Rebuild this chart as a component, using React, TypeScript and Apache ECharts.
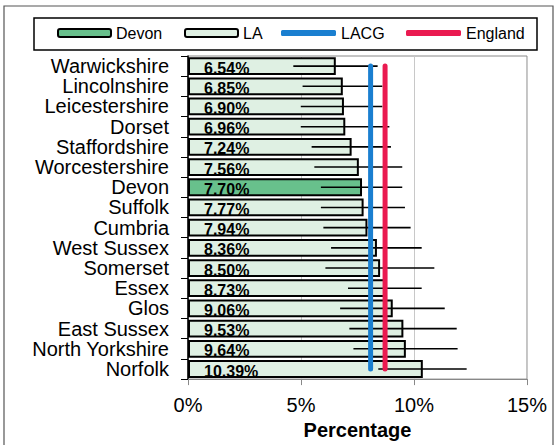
import React, { useEffect, useRef } from "react";
import * as echarts from "echarts";

const categories = [
  "Warwickshire", "Lincolnshire", "Leicestershire", "Dorset", "Staffordshire",
  "Worcestershire", "Devon", "Suffolk", "Cumbria", "West Sussex", "Somerset",
  "Essex", "Glos", "East Sussex", "North Yorkshire", "Norfolk",
];
const values = [6.54, 6.85, 6.9, 6.96, 7.24, 7.56, 7.7, 7.77, 7.94, 8.36, 8.5, 8.73, 9.06, 9.53, 9.64, 10.39];
const lows = [4.66, 5.07, 4.99, 4.99, 5.47, 5.59, 5.88, 5.88, 5.99, 6.33, 6.08, 7.08, 6.73, 7.14, 7.32, 8.42];
const highs = [8.39, 8.6, 8.6, 8.91, 8.98, 9.48, 9.48, 9.6, 9.85, 10.34, 10.9, 10.34, 11.36, 11.89, 11.93, 12.33];
const lacgValue = 8.08;
const englandValue = 8.72;
const highlight = "Devon";
const xTicks = { min: 0, max: 15, interval: 5 };

const FONT = 'Arial, "Liberation Sans", sans-serif';

export default function App() {
  const ref = useRef<HTMLDivElement>(null);
  useEffect(() => {
    document.body.style.margin = "0";
    const chart = echarts.init(ref.current!, null, { renderer: "svg" });
    const laData = values.map((v, i) => (categories[i] === highlight ? "-" : v));
    const devonData = values.map((v, i) => (categories[i] === highlight ? v : "-"));
    const barLabel = {
      show: true,
      position: "insideLeft",
      distance: 16,
      offset: [0, 2],
      formatter: (p: any) => p.value.toFixed(2) + "%",
      fontFamily: FONT,
      fontWeight: "bold",
      fontSize: 16,
      color: "#000",
    };
    const legendBase = {
      top: 25,
      padding: 0,
      itemWidth: 53,
      itemHeight: 8,
      itemGap: 5,
      textStyle: { fontFamily: FONT, fontSize: 16, color: "#000" },
    };
    const lineLegend = {
      ...legendBase,
      icon: "roundRect",
      itemWidth: 55,
      itemHeight: 6,
    };
    chart.setOption({
      animation: false,
      textStyle: { fontFamily: FONT },
      graphic: [
        {
          type: "rect",
          shape: { x: 4, y: 6, width: 549, height: 460 },
          style: { fill: "none", stroke: "#555", lineWidth: 1.2 },
          silent: true,
          z: -10,
        },
        {
          type: "rect",
          shape: { x: 34, y: 18, width: 503, height: 32 },
          style: { fill: "none", stroke: "#000", lineWidth: 1.5 },
          silent: true,
          z: -10,
        },
      ],
      legend: [
        { ...legendBase, left: 57, data: ["Devon"] },
        { ...legendBase, left: 184, data: ["LA"] },
        { ...lineLegend, left: 281, data: ["LACG"], itemStyle: { borderWidth: 0 } },
        { ...lineLegend, left: 406, data: ["England"], itemStyle: { borderWidth: 0 } },
      ],
      grid: {
        left: 188,
        right: 31,
        top: 56,
        bottom: 65,
        show: true,
        borderColor: "#888",
        borderWidth: 1,
        backgroundColor: "transparent",
      },
      xAxis: {
        type: "value",
        min: xTicks.min,
        max: xTicks.max,
        interval: xTicks.interval,
        name: "Percentage",
        nameLocation: "middle",
        nameGap: 40,
        nameTextStyle: { fontFamily: FONT, fontSize: 20, fontWeight: "bold", color: "#000" },
        axisLine: { show: true, lineStyle: { color: "#888", width: 1 } },
        axisTick: { show: true, length: 6, lineStyle: { color: "#888" } },
        axisLabel: {
          formatter: "{value}%",
          fontFamily: FONT,
          fontSize: 20,
          color: "#000",
          margin: 16,
        },
        splitLine: { show: true, lineStyle: { color: "#c8c8c8", width: 1 } },
      },
      yAxis: {
        type: "category",
        data: categories,
        inverse: true,
        axisLine: { show: true, lineStyle: { color: "#000", width: 1.5 } },
        axisTick: { show: true, length: 7, interval: 0, lineStyle: { color: "#000" } },
        axisLabel: {
          fontFamily: FONT,
          fontSize: 20,
          lineHeight: 20,
          color: "#000",
          margin: 19,
          interval: 0,
        },
        splitLine: { show: false },
      },
      series: [
        {
          name: "LA",
          type: "bar",
          data: laData,
          barCategoryGap: "12%",
          itemStyle: { color: "#dff0e3", borderColor: "#000", borderWidth: 2 },
          label: barLabel,
          z: 2,
        },
        {
          name: "Devon",
          type: "bar",
          data: devonData,
          barGap: "-100%",
          barCategoryGap: "12%",
          itemStyle: { color: "#68c08c", borderColor: "#000", borderWidth: 2 },
          label: barLabel,
          z: 2,
        },
        {
          name: "errors",
          type: "custom",
          data: categories.map((c, i) => [lows[i], highs[i], i]),
          encode: { x: [0, 1], y: 2 },
          renderItem: (params: any, api: any) => {
            const a = api.coord([api.value(0), api.value(2)]);
            const b = api.coord([api.value(1), api.value(2)]);
            return {
              type: "line",
              shape: { x1: a[0], y1: a[1], x2: b[0], y2: b[1] },
              style: { stroke: "#000", lineWidth: 1.6 },
            };
          },
          silent: true,
          z: 3,
        },
        {
          name: "LACG",
          type: "line",
          data: categories.map((c) => [lacgValue, c]),
          symbol: "none",
          lineStyle: { color: "#1a7fd0", width: 5, cap: "round" },
          itemStyle: { color: "#1a7fd0" },
          z: 4,
        },
        {
          name: "England",
          type: "line",
          data: categories.map((c) => [englandValue, c]),
          symbol: "none",
          lineStyle: { color: "#ea1a50", width: 5, cap: "round" },
          itemStyle: { color: "#ea1a50" },
          z: 4,
        },
      ],
    });
    return () => chart.dispose();
  }, []);
  return <div ref={ref} style={{ width: 558, height: 445 }} />;
}
